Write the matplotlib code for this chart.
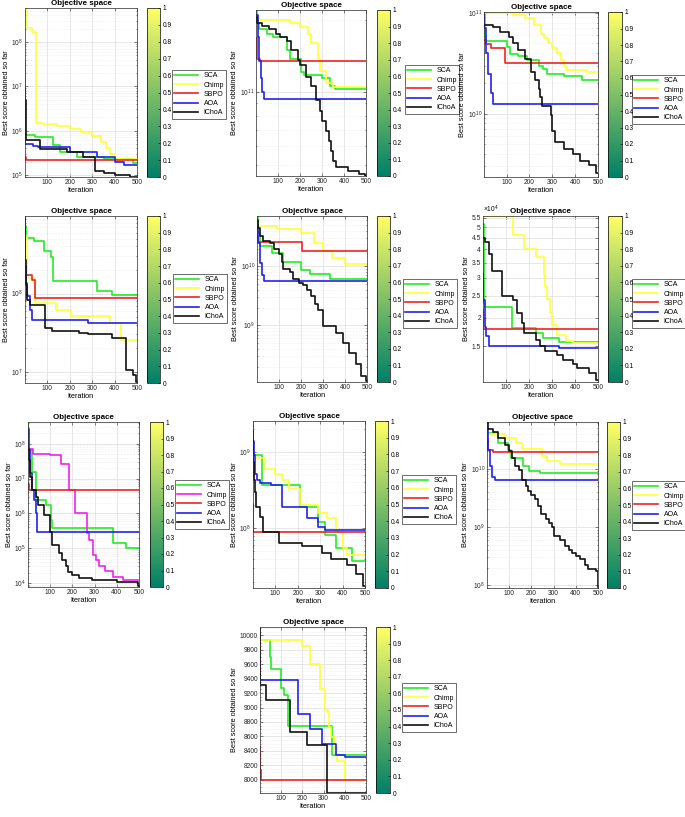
import numpy as np
import matplotlib
matplotlib.use('Agg')
import matplotlib.pyplot as plt
from matplotlib import ticker, colors
from matplotlib.cm import ScalarMappable

plt.rcParams['font.family'] = ['Liberation Sans', 'DejaVu Sans']
plt.rcParams['mathtext.fontset'] = 'custom'
plt.rcParams['mathtext.rm'] = 'Liberation Sans'
plt.rcParams['mathtext.it'] = 'Liberation Sans:italic'

W, H = 685, 817

names = ['SCA', 'Chimp', 'SBPO', 'AOA', 'IChoA']
line_colors = ['#22ee22', '#ffff33', '#ee2222', '#2222ee', '#111111']
magenta = '#ee22ee'

# best-so-far curves as (iteration, value) breakpoints, one list per algorithm
f1_sca = [(1, 3.5e7), (3, 8e5), (45, 7.3e5), (124, 4.7e5), (158, 3.3e5), (233, 2.6e5), (355, 2.3e5), (483, 1.9e5)]
f1_chimp = [(1, 6e8), (8, 2.1e8), (30, 1.7e8), (52, 1.48e6), (82, 1.4e6), (142, 1.25e6), (200, 1.1e6), (250, 9.2e5),
            (300, 7.5e5), (340, 5.5e5), (360, 4e5), (380, 3e5), (400, 2.4e5), (420, 2.3e5)]
f1_sbpo = [(1, 2.5e5), (5, 2.15e5)]
f1_aoa = [(1, 9e6), (3, 5e5), (36, 4.6e5), (60, 4.3e5), (203, 3.3e5), (324, 2.6e5), (400, 2e5), (440, 1.65e5)]
f1_ichoa = [(1, 5e6), (6, 6e5), (67, 3.9e5), (188, 3.3e5), (260, 2.6e5), (315, 1.25e5), (355, 1.1e5), (400, 1e5),
            (470, 9e4)]

f2_sca = [(1, 2.17e11), (5, 1.94e11), (15, 1.83e11), (50, 1.75e11), (80, 1.7e11), (140, 1.5e11), (155, 1.38e11),
          (205, 1.22e11), (220, 1.18e11), (300, 1.15e11), (335, 1.06e11), (360, 1.03e11)]
f2_chimp = [(1, 2.06e11), (15, 2.0e11), (155, 1.94e11), (200, 1.87e11), (235, 1.75e11), (250, 1.6e11), (280, 1.38e11),
            (290, 1.23e11), (320, 1.1e11), (350, 1.05e11)]
f2_sbpo = [(1, 1.68e11), (5, 1.38e11), (20, 1.35e11)]
f2_aoa = [(1, 2.1e11), (8, 1.7e11), (15, 1.35e11), (22, 1.15e11), (30, 1.0e11), (38, 9.4e10)]
f2_ichoa = [(1, 2.06e11), (5, 1.94e11), (30, 1.88e11), (60, 1.83e11), (90, 1.75e11), (110, 1.7e11), (140, 1.63e11),
            (160, 1.5e11), (190, 1.36e11), (200, 1.3e11), (230, 1.16e11), (250, 1.06e11), (275, 9.3e10),
            (290, 8.4e10), (300, 7.6e10), (320, 6.9e10), (330, 6.3e10), (340, 5.7e10), (350, 5.2e10),
            (365, 4.9e10), (420, 4.7e10), (470, 4.6e10), (495, 4.5e10)]

f3_sca = [(1, 1e11), (5, 5.8e10), (10, 5.2e10), (100, 4.6e10), (115, 3.95e10), (150, 3.7e10), (190, 3.4e10),
          (240, 3.0e10), (260, 2.8e10), (275, 2.5e10), (350, 2.35e10), (430, 2.15e10)]
f3_chimp = [(1, 1e11), (130, 9.5e10), (180, 8.8e10), (220, 7.5e10), (250, 6.2e10), (265, 5.6e10), (280, 5.0e10),
            (300, 4.5e10), (320, 4.0e10), (340, 3.4e10), (350, 3.0e10), (360, 2.7e10), (450, 2.6e10)]
f3_sbpo = [(1, 5.4e10), (10, 4.95e10), (30, 4.5e10), (95, 3.2e10)]
f3_aoa = [(1, 1e11), (3, 7e10), (10, 4e10), (20, 2.5e10), (30, 1.6e10), (40, 1.24e10)]
f3_ichoa = [(1, 7.5e10), (40, 7.2e10), (70, 6.5e10), (110, 5.8e10), (130, 5.0e10), (150, 4.25e10), (180, 3.5e10),
            (205, 2.6e10), (225, 2.15e10), (240, 1.77e10), (245, 1.46e10), (255, 1.18e10), (295, 9.6e9),
            (300, 6.8e9), (310, 5.2e9), (350, 4.5e9), (390, 4e9), (420, 3.4e9), (460, 3.1e9), (490, 2.6e9)]

f4_sca = [(1, 7.2e8), (5, 5.2e8), (40, 4.7e8), (85, 3.5e8), (115, 2.9e8), (125, 1.44e8), (320, 1.07e8), (390, 9.7e7)]
f4_chimp = [(1, 5.5e8), (10, 1.6e8), (45, 7.6e7), (140, 6.2e7), (205, 5.1e7), (380, 4.2e7), (430, 2.55e7)]
f4_sbpo = [(1, 1.75e8), (30, 1.5e8), (45, 8.8e7)]
f4_aoa = [(1, 2.25e8), (5, 1.37e8), (10, 9.2e7), (25, 6.2e7), (30, 4.6e7), (280, 4.2e7)]
f4_ichoa = [(1, 9.9e8), (3, 2.7e8), (5, 1.3e8), (10, 8.4e7), (25, 7.2e7), (90, 3.6e7), (120, 3.3e7), (240, 3.1e7),
            (280, 3.0e7), (390, 2.7e7), (450, 1.05e7), (480, 9e6), (495, 7.4e6)]

f5_sca = [(1, 7e10), (5, 3.6e10), (15, 2.17e10), (70, 1.68e10), (120, 1.2e10), (200, 8.8e9), (240, 7.5e9),
          (330, 6.1e9)]
f5_chimp = [(1, 4.8e10), (90, 4.25e10), (200, 3.65e10), (260, 2.5e10), (300, 1.8e10), (340, 1.4e10), (400, 1.1e10)]
f5_sbpo = [(1, 3.2e10), (5, 2.55e10), (205, 1.84e10)]
f5_aoa = [(1, 5e10), (5, 2.5e10), (15, 1.14e10), (25, 7.2e9), (35, 5.7e9)]
f5_ichoa = [(1, 6.1e10), (5, 4.5e10), (15, 3.3e10), (30, 2.7e10), (60, 2.5e10), (80, 1.95e10), (100, 1.6e10),
            (115, 1.2e10), (120, 9e9), (150, 8e9), (165, 6.2e9), (190, 5.3e9), (210, 4.9e9), (230, 4e9),
            (248, 3.1e9), (265, 2.3e9), (278, 1.85e9), (300, 9.7e8), (360, 7.5e8), (390, 5.1e8), (420, 3.4e8),
            (450, 2.2e8), (475, 1.4e8), (497, 1.15e8)]

f6_sca = [(1, 5.15e4), (5, 2.33e4), (10, 2.24e4), (125, 1.81e4), (230, 1.71e4), (260, 1.64e4), (330, 1.57e4),
          (400, 1.56e4)]
f6_chimp = [(1, 5.6e4), (130, 4.6e4), (180, 4.0e4), (230, 3.7e4), (265, 3.1e4), (270, 2.73e4), (280, 2.41e4),
            (290, 2.1e4), (300, 1.86e4), (320, 1.68e4), (360, 1.58e4), (390, 1.55e4)]
f6_sbpo = [(1, 2.16e4), (3, 1.78e4)]
f6_aoa = [(1, 3.13e4), (3, 2.4e4), (8, 1.83e4), (15, 1.66e4), (25, 1.5e4), (330, 1.48e4)]
f6_ichoa = [(1, 4.5e4), (10, 4.3e4), (25, 3.8e4), (40, 3.2e4), (85, 2.5e4), (130, 2.4e4), (150, 2.1e4), (170, 1.9e4),
            (180, 1.71e4), (230, 1.6e4), (250, 1.5e4), (270, 1.43e4), (320, 1.37e4), (350, 1.3e4), (390, 1.26e4),
            (410, 1.2e4), (460, 1.15e4), (490, 1.07e4)]

f7_sca = [(1, 4.2e8), (3, 6.4e7), (20, 1.55e7), (35, 2.4e6), (80, 1.7e6), (105, 6.5e5), (110, 3.7e5), (385, 1.45e5),
          (440, 1e5)]
f7_chimp = [(1, 7.2e7), (25, 5.2e7), (100, 4.6e7), (149, 2.7e7), (186, 4.6e6), (213, 1e6), (265, 2.7e5),
            (277, 1.7e5), (292, 6.4e4), (307, 4.6e4), (322, 3e4), (345, 2.2e4), (382, 1.5e4), (427, 1.2e4)]
f7_sbpo = [(1, 7.2e6), (5, 4.6e6)]
f7_aoa = [(1, 2.7e8), (5, 6.4e7), (10, 1.4e7), (20, 4.6e6), (30, 2.4e6), (35, 1e6), (40, 3e5)]
f7_ichoa = [(1, 7.2e7), (5, 3.3e7), (10, 1.1e7), (20, 4.6e6), (35, 3e6), (45, 1.7e6), (75, 8.9e5), (100, 3e5),
            (110, 1.25e5), (140, 7.2e4), (155, 4.6e4), (170, 3e4), (180, 2.1e4), (200, 1.7e4), (230, 1.4e4),
            (290, 1.2e4), (400, 1.05e4), (495, 8e3)]

f8_sca = [(1, 2.5e9), (3, 9e8), (40, 3.7e8), (210, 1.9e8), (290, 1.2e8), (320, 8.2e7), (370, 5.5e7), (440, 3.7e7)]
f8_chimp = [(1, 8.6e8), (20, 8.2e8), (55, 6e8), (100, 5.2e8), (130, 4.3e8), (160, 3.3e8), (210, 2e8), (290, 1.57e8),
            (330, 1.35e8), (370, 9e7), (400, 5.5e7), (420, 4.5e7)]
f8_sbpo = [(1, 2.1e8), (3, 8.8e7)]
f8_aoa = [(1, 1.4e9), (5, 9e8), (10, 5.2e8), (20, 4.3e8), (30, 3.9e8), (80, 3.7e8), (130, 1.9e8), (240, 1.35e8),
          (290, 1.05e8), (320, 9.5e7)]
f8_ichoa = [(1, 1.9e9), (3, 7.4e8), (5, 4.3e8), (10, 3e8), (15, 1.9e8), (30, 1.4e8), (45, 9e7), (115, 6.4e7),
            (220, 5.8e7), (310, 4.7e7), (350, 3.9e7), (420, 3.3e7), (460, 2.5e7), (490, 1.75e7)]

f9_sca = [(1, 4.1e10), (50, 2.8e10), (95, 2.1e10), (110, 1.55e10), (165, 1.1e10), (190, 9.1e9), (240, 8.3e9)]
f9_chimp = [(1, 3.9e10), (80, 3.4e10), (130, 2.8e10), (160, 2.15e10), (250, 1.65e10), (270, 1.35e10), (330, 1.2e10)]
f9_sbpo = [(1, 3.2e10), (5, 2.1e10), (30, 1.95e10)]
f9_aoa = [(1, 5e10), (5, 2.1e10), (15, 1.1e10), (25, 7.3e9), (35, 6.5e9)]
f9_ichoa = [(1, 6.5e10), (5, 4.7e10), (30, 4.2e10), (50, 3.4e10), (80, 2.5e10), (100, 2e10), (115, 1.5e10),
            (125, 1.1e10), (145, 9.5e9), (160, 6.5e9), (175, 5e9), (185, 4.2e9), (200, 3.6e9), (215, 3e9),
            (230, 2.3e9), (246, 1.65e9), (265, 1.35e9), (280, 1.15e9), (291, 1e9), (300, 7e8), (330, 6e8),
            (350, 4.8e8), (370, 4e8), (385, 3.6e8), (400, 3.2e8), (420, 2.8e8), (440, 2.2e8), (455, 1.9e8),
            (490, 1.75e8), (498, 9.5e7)]

f10_sca = [(1, 9931), (49, 9700), (52, 9540), (100, 9264), (115, 9172), (131, 8745), (340, 8345)]
f10_chimp = [(1, 9940), (200, 9848), (235, 9609), (285, 9250), (305, 8965), (320, 8920), (325, 8736), (335, 8598),
             (355, 8437), (365, 8253), (400, 8000)]
f10_sbpo = [(1, 8450), (3, 8130), (8, 7990)]
f10_aoa = [(1, 9700), (3, 9380), (180, 8910), (235, 8700), (295, 8497), (360, 8345), (400, 8310)]
f10_ichoa = [(1, 10092), (3, 9310), (30, 9103), (140, 8667), (220, 8480), (315, 7816)]

# axes boxes in pixels (left, top, right, bottom), colorbar x-range, legend top-left corner
ax_boxes = [(25, 8, 137, 177), (256, 10, 366, 176), (484, 12, 598, 177),
            (25, 216, 137, 383), (257, 216, 367, 382), (483, 216, 598, 382),
            (28, 422, 139, 587), (253, 421, 365, 588), (487, 422, 598, 588),
            (260, 627, 366, 793)]
cb_x = [(147, 160), (377, 390), (608, 622), (147, 160), (377, 390), (608, 622),
        (150, 163), (375, 388), (607, 620), (376, 390)]
leg_pos = [(172, 70), (405, 65), (632, 75), (173, 274), (403, 279), (632, 279),
           (175, 480), (402, 475), (632, 481), (402, 683)]
ylims = [(9e4, 5.8e8), (4.5e10, 2.2e11), (2.35e9, 1.02e11), (7.2e6, 9.8e8), (1.1e8, 7.1e10),
         (1.046e4, 5.6e4), (7.7e3, 4.2e8), (1.65e7, 2.54e9), (9e7, 6.3e10), (7816, 10115)]

series = [
    [f1_sca, f1_chimp, f1_sbpo, f1_aoa, f1_ichoa],
    [f2_sca, f2_chimp, f2_sbpo, f2_aoa, f2_ichoa],
    [f3_sca, f3_chimp, f3_sbpo, f3_aoa, f3_ichoa],
    [f4_sca, f4_chimp, f4_sbpo, f4_aoa, f4_ichoa],
    [f5_sca, f5_chimp, f5_sbpo, f5_aoa, f5_ichoa],
    [f6_sca, f6_chimp, f6_sbpo, f6_aoa, f6_ichoa],
    [f7_sca, f7_chimp, f7_sbpo, f7_aoa, f7_ichoa],
    [f8_sca, f8_chimp, f8_sbpo, f8_aoa, f8_ichoa],
    [f9_sca, f9_chimp, f9_sbpo, f9_aoa, f9_ichoa],
    [f10_sca, f10_chimp, f10_sbpo, f10_aoa, f10_ichoa],
]

f6_ticks = [1.5e4, 2e4, 2.5e4, 3e4, 3.5e4, 4e4, 4.5e4, 5e4, 5.5e4]
f6_ticklabels = ['1.5', '2', '2.5', '3', '3.5', '4', '4.5', '5', '5.5']
f10_ticks = list(range(8000, 10001, 200))

FS = 4.8


def frac(l, t, r, b):
    return [l / W, 1 - b / H, (r - l) / W, (b - t) / H]


fig = plt.figure(figsize=(W / 100, H / 100), dpi=100)

for i in range(10):
    l, t, r, b = ax_boxes[i]
    ax = fig.add_axes(frac(l, t, r, b))
    handles = []
    for j, pts in enumerate(series[i]):
        it = [p[0] for p in pts] + [500]
        val = [p[1] for p in pts] + [pts[-1][1]]
        c = line_colors[j]
        if i == 6 and j == 1:
            c = magenta
        h, = ax.plot(it, val, drawstyle='steps-post', color=c, lw=1.2, label=names[j])
        handles.append(h)

    ax.set_xlim(1, 500)
    ax.set_xticks([100, 200, 300, 400, 500])
    if i == 9:
        ax.set_ylim(*ylims[i])
        ax.set_yticks(f10_ticks)
        ax.yaxis.set_minor_locator(ticker.MultipleLocator(50))
    else:
        ax.set_yscale('log')
        ax.set_ylim(*ylims[i])
        ax.yaxis.set_minor_locator(ticker.LogLocator(base=10, subs=np.arange(2, 10)))
        ax.yaxis.set_minor_formatter(ticker.NullFormatter())
        if i == 5:
            ax.yaxis.set_major_locator(ticker.FixedLocator(f6_ticks))
            ax.yaxis.set_major_formatter(ticker.FixedFormatter(f6_ticklabels))
            ax.text(0, 1.004, r'$\times10^{4}$', transform=ax.transAxes, ha='left', va='bottom', fontsize=FS)
        else:
            ax.yaxis.set_major_locator(ticker.LogLocator(base=10, subs=(1.0,)))

    ax.grid(True, which='major', color='#dddddd', lw=0.5, ls='-')
    ax.grid(True, which='minor', axis='y', color='#e0e0e0', lw=0.4, ls=':')
    ax.tick_params(which='both', direction='in', top=True, right=True, labelsize=FS,
                   length=2, width=0.4, pad=1.5, colors='#262626')
    ax.tick_params(which='minor', length=1)
    for s in ax.spines.values():
        s.set_linewidth(0.5)
        s.set_color('#262626')
    ax.set_title('Objective space', fontsize=5.8, fontweight='bold', pad=2)
    ax.set_xlabel('Iteration', fontsize=5.3, labelpad=1)
    ax.set_ylabel('Best score obtained so far', fontsize=5.3, labelpad=1)

    # colorbar beside each panel
    c0, c1 = cb_x[i]
    cax = fig.add_axes(frac(c0, t, c1, b))
    cb = fig.colorbar(ScalarMappable(norm=colors.Normalize(0, 1), cmap='summer'), cax=cax,
                      ticks=np.arange(0, 1.01, 0.1))
    cb.ax.yaxis.set_major_formatter(ticker.FuncFormatter(lambda v, p: f'{v:g}'))
    cb.ax.tick_params(labelsize=FS, length=1.5, width=0.4, direction='in', pad=2)
    cb.outline.set_linewidth(0.5)

    lx, ly = leg_pos[i]
    leg = ax.legend(handles=handles, loc='upper left', bbox_to_anchor=(lx / W, 1 - ly / H),
                    bbox_transform=fig.transFigure, borderaxespad=0, fontsize=5, fancybox=False,
                    framealpha=1, edgecolor='#333333', handlelength=3.4, labelspacing=0.32,
                    handletextpad=0.8, borderpad=0.35)
    leg.get_frame().set_linewidth(0.5)

fig.savefig('out.png', dpi=100)
